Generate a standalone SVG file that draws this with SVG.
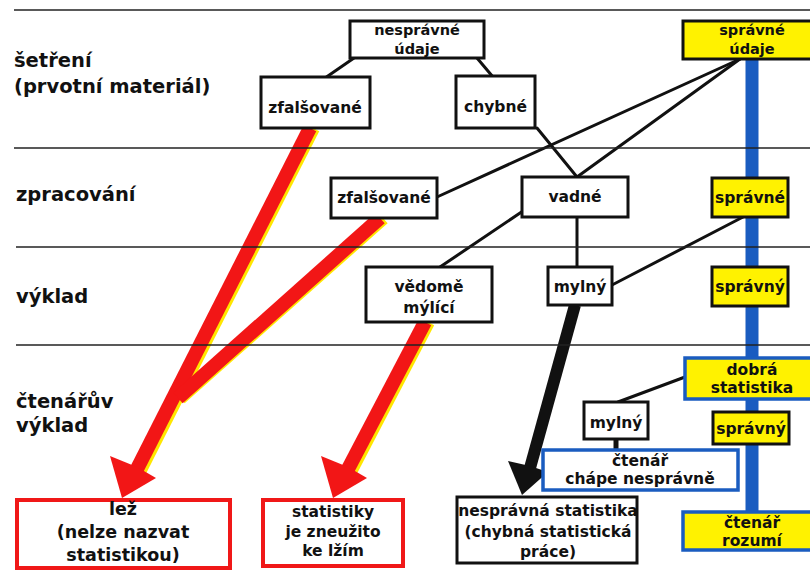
<svg xmlns="http://www.w3.org/2000/svg" width="810" height="573" viewBox="0 0 810 573">
<style>
text{font-family:"DejaVu Sans","Liberation Sans",sans-serif;font-weight:bold;fill:#111;}
.lbl{font-size:19.5px;}
.t{font-size:15.5px;text-anchor:middle;}
.t2{font-size:14.5px;text-anchor:middle;}
.tb{font-size:17.5px;text-anchor:middle;}
.rule{stroke:#222;stroke-width:1.6;}
.thin{stroke:#111;stroke-width:3;fill:none;stroke-linecap:round;}
.box{fill:#fff;stroke:#111;stroke-width:3;}
.ybox{fill:#fff200;stroke:#111;stroke-width:3;}
.ybbox{fill:#fff200;stroke:#1a5cc0;stroke-width:3.5;}
.bbox{fill:#fff;stroke:#1a5cc0;stroke-width:3.5;}
.rbox{fill:#fff;stroke:#f01818;stroke-width:4;}
.red{stroke:#f21616;stroke-width:14;fill:none;}
.ysh{stroke:#ffe600;stroke-width:14;fill:none;}
.redh{fill:#f21616;}
</style>
<rect width="810" height="573" fill="#fff"/>
<g id="connectors">
<line x1="752" y1="55" x2="752" y2="515" stroke="#1a5cc0" stroke-width="13"/>
<line class="thin" x1="354" y1="58" x2="325" y2="78"/>
<line class="thin" x1="477" y1="58" x2="493" y2="77"/>
<line class="thin" x1="537" y1="128" x2="577" y2="177"/>
<line class="thin" x1="740" y1="59" x2="437" y2="197"/>
<line class="thin" x1="740" y1="59" x2="577" y2="177"/>
<line class="thin" x1="523" y1="211" x2="440" y2="267"/>
<line class="thin" x1="577" y1="217" x2="577" y2="267"/>
<line class="thin" x1="743" y1="217" x2="612" y2="285"/>
<line class="thin" x1="685" y1="377" x2="618" y2="402"/>
<line x1="616" y1="438" x2="616" y2="451" stroke="#111" stroke-width="5"/>
<polyline class="ysh" points="313,128 140,470"/>
<polyline class="ysh" points="383,218 180,398"/>
<polyline class="ysh" points="428,322 351,470"/>
<polyline class="red" points="310,128 137,469"/>
<polyline class="red" points="380,218 178,398"/>
<polyline class="red" points="425,322 348,469"/>
<polygon class="redh" points="122,498 110,456 137,467 156,478"/>
<polygon class="redh" points="333,498 321,456 348,467 367,478"/>
<line x1="575" y1="305" x2="530" y2="468" stroke="#111" stroke-width="12"/>
<polygon fill="#111" points="522,495 508,461 530,466 548,472"/>
</g>
<g id="rules">
<line class="rule" x1="14" y1="10" x2="810" y2="10" stroke-width="2"/>
<line class="rule" x1="14" y1="148" x2="810" y2="148"/>
<line class="rule" x1="16" y1="247" x2="810" y2="247"/>
<line class="rule" x1="16" y1="345" x2="810" y2="345"/>
</g>
<g id="row-labels">
<text class="lbl" x="14" y="67">šetření</text>
<text class="lbl" x="14" y="93">(prvotní materiál)</text>
<text class="lbl" x="16" y="201">zpracování</text>
<text class="lbl" x="16" y="303">výklad</text>
<text class="lbl" x="16" y="408">čtenářův</text>
<text class="lbl" x="16" y="432">výklad</text>
</g>
<g id="n-nespravne-udaje"><rect class="box" x="350" y="21" width="134" height="37"/><text class="t2" x="417" y="35">nesprávné</text><text class="t2" x="417" y="54">údaje</text></g>
<g id="n-zfalsovane-1"><rect class="box" x="261" y="77" width="109" height="51"/><text class="t" x="315" y="113">zfalšované</text></g>
<g id="n-chybne"><rect class="box" x="456" y="76" width="79" height="52"/><text class="t" x="495.5" y="112">chybné</text></g>
<g id="n-spravne-udaje"><rect class="ybox" x="683" y="21" width="135" height="38"/><text class="t2" x="752" y="35">správné</text><text class="t2" x="752" y="54">údaje</text></g>
<g id="n-zfalsovane-2"><rect class="box" x="331" y="178" width="106" height="40"/><text class="t" x="384" y="203">zfalšované</text></g>
<g id="n-vadne"><rect class="box" x="522" y="177" width="106" height="40"/><text class="t" x="575" y="202">vadné</text></g>
<g id="n-spravne"><rect class="ybox" x="712" y="178" width="76" height="39"/><text class="t" x="750" y="203">správné</text></g>
<g id="n-vedome-mylici"><rect class="box" x="366" y="267" width="126" height="55"/><text class="t" x="429" y="292">vědomě</text><text class="t" x="429" y="313">mýlící</text></g>
<g id="n-mylny-1"><rect class="box" x="548" y="267" width="64" height="38"/><text class="t" x="580" y="292">mylný</text></g>
<g id="n-spravny-1"><rect class="ybox" x="712" y="267" width="76" height="39"/><text class="t" x="750" y="292">správný</text></g>
<g id="n-dobra-statistika"><rect class="ybbox" x="685" y="358" width="130" height="41"/><text class="t" x="752" y="375">dobrá</text><text class="t" x="752" y="393">statistika</text></g>
<g id="n-mylny-2"><rect class="box" x="584" y="402" width="64" height="37"/><text class="t" x="616" y="428">mylný</text></g>
<g id="n-spravny-2"><rect class="ybox" x="713" y="412" width="76" height="32"/><text class="t" x="751" y="434">správný</text></g>
<g id="n-ctenar-chape"><rect class="bbox" x="543" y="450" width="195" height="40"/><text class="t" x="640" y="466">čtenář</text><text class="t" x="640" y="484">chápe nesprávně</text></g>
<g id="n-ctenar-rozumi"><rect class="ybbox" x="683" y="512" width="135" height="38"/><text class="t" x="752" y="528">čtenář</text><text class="t" x="752" y="546">rozumí</text></g>
<g id="n-nespravna-statistika"><rect class="box" x="457" y="497" width="180" height="66"/><text class="t" x="548" y="516">nesprávná  statistika</text><text class="t" x="548" y="537">(chybná statistická</text><text class="t" x="548" y="557">práce)</text></g>
<g id="n-lez"><rect class="rbox" x="17" y="500" width="213" height="68"/><text class="tb" x="123" y="515">lež</text><text class="tb" x="123" y="538">(nelze nazvat</text><text class="tb" x="123" y="561">statistikou)</text></g>
<g id="n-statistiky"><rect class="rbox" x="263" y="500" width="140" height="66"/><text class="t" x="333" y="517">statistiky</text><text class="t" x="333" y="537">je zneužito</text><text class="t" x="333" y="556">ke lžím</text></g>
</svg>
